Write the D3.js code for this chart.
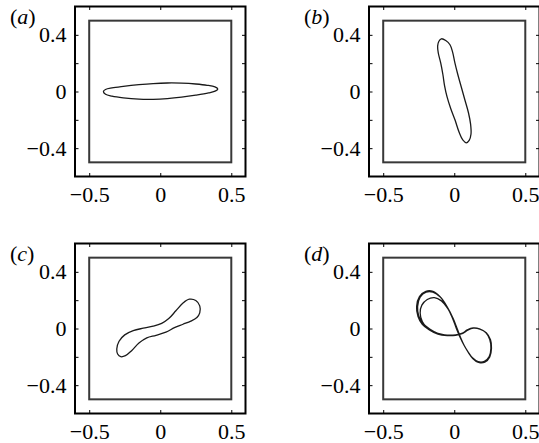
<!DOCTYPE html>
<html>
<head>
<meta charset="utf-8">
<script src="https://cdn.jsdelivr.net/npm/d3@7"></script>
<style>
  html, body { margin: 0; padding: 0; background: #fff; }
  svg { display: block; }
</style>
</head>
<body>
<svg id="fig" width="539" height="443"></svg>
<script>
// Axis ticks and their labels
const xTicks = [-0.5, 0, 0.5];
const xTickLabels = ["\u22120.5", "0", "0.5"];
const yTicks = [-0.4, -0.2, 0, 0.2, 0.4];
const yTickLabels = ["\u22120.4", "", "0", "", "0.4"];
const axisDomain = [-0.6, 0.6];

// Container square (x and y extent)
const boxExtent = [-0.5, 0.5];

// Panel letters
const panelLetters = ["a", "b", "c", "d"];

// (a) thin, nearly horizontal loop
const loopA = [
  [-0.400, 0.000], [-0.385, 0.014], [-0.34, 0.025], [-0.26, 0.036], [-0.15, 0.048],
  [-0.05, 0.056], [0.05, 0.060], [0.15, 0.059], [0.25, 0.053], [0.33, 0.044],
  [0.385, 0.032], [0.405, 0.018], [0.39, 0.004], [0.34, -0.010], [0.25, -0.026],
  [0.15, -0.040], [0.05, -0.050], [-0.05, -0.055], [-0.15, -0.054], [-0.26, -0.045],
  [-0.34, -0.033], [-0.385, -0.020]
];

// (b) slender loop tilted from vertical
const loopB = [
  [-0.090, 0.372], [-0.060, 0.360], [-0.030, 0.330], [-0.012, 0.280], [0.005, 0.200],
  [0.025, 0.120], [0.050, 0.030], [0.075, -0.060], [0.100, -0.150], [0.115, -0.230],
  [0.118, -0.300], [0.105, -0.345], [0.085, -0.362], [0.060, -0.342], [0.035, -0.290],
  [0.005, -0.200], [-0.025, -0.120], [-0.050, -0.040], [-0.068, 0.040], [-0.080, 0.120],
  [-0.095, 0.200], [-0.112, 0.270], [-0.117, 0.320], [-0.108, 0.355]
];

// (c) S-shaped loop
const loopC = [
  [0.205, 0.207], [0.250, 0.198], [0.278, 0.160], [0.278, 0.110], [0.258, 0.078],
  [0.215, 0.052], [0.160, 0.030], [0.100, 0.006], [0.040, -0.026], [-0.030, -0.048],
  [-0.095, -0.066], [-0.150, -0.103], [-0.200, -0.155], [-0.245, -0.192], [-0.278, -0.199],
  [-0.300, -0.180], [-0.306, -0.145], [-0.290, -0.090], [-0.250, -0.045], [-0.190, -0.015],
  [-0.120, 0.002], [-0.050, 0.016], [0.010, 0.036], [0.060, 0.070], [0.110, 0.125],
  [0.160, 0.180]
];

// (d) figure-of-eight trajectory, several passes
const pathD = [
  [0.250, -0.190], [0.222, -0.233], [0.175, -0.240], [0.132, -0.214], [0.100, -0.170],
  // pass 1
  [0.070, -0.120], [0.040, -0.060], [0.015, 0.000], [-0.015, 0.080], [-0.050, 0.150],
  [-0.100, 0.225], [-0.150, 0.262], [-0.200, 0.262], [-0.245, 0.225], [-0.265, 0.155],
  [-0.255, 0.085], [-0.225, 0.030], [-0.175, -0.010], [-0.115, -0.040], [-0.050, -0.050],
  [0.010, -0.048], [0.060, -0.035], [0.095, -0.012], [0.135, 0.002], [0.180, -0.004],
  [0.225, -0.030], [0.255, -0.080], [0.262, -0.140], [0.250, -0.200], [0.215, -0.238],
  [0.170, -0.240], [0.130, -0.212], [0.100, -0.170],
  // pass 2
  [0.070, -0.120], [0.042, -0.062], [0.017, 0.000], [-0.012, 0.080], [-0.048, 0.150],
  [-0.098, 0.222], [-0.150, 0.257], [-0.198, 0.257], [-0.240, 0.222], [-0.258, 0.155],
  [-0.250, 0.088], [-0.220, 0.035], [-0.170, -0.005], [-0.112, -0.036], [-0.050, -0.047],
  [0.010, -0.045], [0.058, -0.032], [0.092, -0.010], [0.133, 0.004], [0.178, -0.002],
  [0.222, -0.028], [0.250, -0.078], [0.258, -0.140], [0.246, -0.198], [0.212, -0.232],
  [0.168, -0.234], [0.128, -0.207], [0.098, -0.166],
  // pass 3, inner turn of the upper lobe
  [0.070, -0.120], [0.045, -0.065], [0.020, 0.000], [-0.010, 0.075], [-0.045, 0.140],
  [-0.090, 0.195], [-0.140, 0.218], [-0.190, 0.205], [-0.228, 0.165], [-0.240, 0.110],
  [-0.225, 0.050], [-0.190, 0.005], [-0.140, -0.025], [-0.085, -0.042], [-0.045, -0.047]
];

const panels = [
  { left: 75, top: 6.5, letter: panelLetters[0], data: loopA, closed: true },
  { left: 369, top: 6.5, letter: panelLetters[1], data: loopB, closed: true },
  { left: 75, top: 243.5, letter: panelLetters[2], data: loopC, closed: true },
  { left: 369, top: 243.5, letter: panelLetters[3], data: pathD, closed: false }
];

const W = 170.5, H = 170;
const FONT = "'Liberation Serif', 'Times New Roman', serif";
const x = d3.scaleLinear().domain(axisDomain).range([0, W]);
const y = d3.scaleLinear().domain(axisDomain).range([H, 0]);

const svg = d3.select("#fig");

const xLab = d => xTickLabels[xTicks.indexOf(d)];
const yLab = d => yTickLabels[yTicks.findIndex(v => Math.abs(v - d) < 1e-9)];

panels.forEach(p => {
  const g = svg.append("g").attr("transform", `translate(${p.left},${p.top})`);

  // ticks on all four sides, pointing inward
  const styleAxis = sel => {
    sel.attr("font-family", null).attr("font-size", null);
    sel.select(".domain").remove();
    sel.selectAll(".tick line").attr("stroke", "#000").attr("stroke-width", 1);
    sel.selectAll(".tick text")
      .attr("font-family", FONT)
      .attr("font-size", 22)
      .attr("fill", "#000");
  };
  g.append("g").attr("transform", `translate(0,${H})`)
    .call(d3.axisBottom(x).tickValues(xTicks).tickFormat(xLab).tickSizeInner(-3.5).tickSizeOuter(0).tickPadding(10))
    .call(styleAxis);
  g.append("g")
    .call(d3.axisTop(x).tickValues(xTicks).tickFormat("").tickSizeInner(-3.5).tickSizeOuter(0))
    .call(styleAxis);
  g.append("g")
    .call(d3.axisLeft(y).tickValues(yTicks).tickFormat(yLab).tickSizeInner(-3.5).tickSizeOuter(0).tickPadding(8.5))
    .call(styleAxis);
  g.append("g").attr("transform", `translate(${W},0)`)
    .call(d3.axisRight(y).tickValues(yTicks).tickFormat("").tickSizeInner(-3.5).tickSizeOuter(0))
    .call(styleAxis);

  // axes frame
  g.append("rect")
    .attr("x", 0).attr("y", 0).attr("width", W).attr("height", H)
    .attr("fill", "none").attr("stroke", "#000").attr("stroke-width", 2);

  // container square
  g.append("rect")
    .attr("x", x(boxExtent[0])).attr("y", y(boxExtent[1]))
    .attr("width", x(boxExtent[1]) - x(boxExtent[0]))
    .attr("height", y(boxExtent[0]) - y(boxExtent[1]))
    .attr("fill", "none").attr("stroke", "#383838").attr("stroke-width", 2);

  // trajectory
  const line = d3.line()
    .x(d => x(d[0])).y(d => y(d[1]))
    .curve(p.closed ? d3.curveCatmullRomClosed.alpha(0.5) : d3.curveCatmullRom.alpha(0.5));
  g.append("path")
    .attr("d", line(p.data))
    .attr("fill", "none").attr("stroke", "#1a1a1a").attr("stroke-width", 1.3)
    .attr("stroke-linejoin", "round");

  // panel letter
  const t = g.append("text")
    .attr("x", -65).attr("y", 17)
    .attr("font-family", FONT).attr("font-size", 22).attr("fill", "#000");
  t.append("tspan").text("(");
  t.append("tspan").attr("font-style", "italic").text(p.letter);
  t.append("tspan").text(")");
});
</script>
</body>
</html>
